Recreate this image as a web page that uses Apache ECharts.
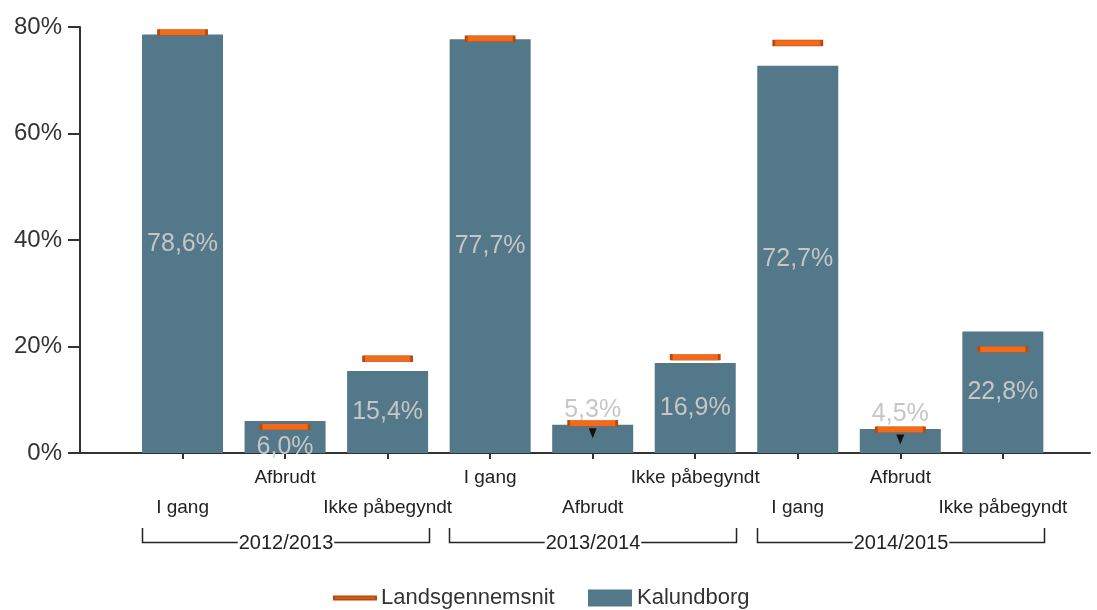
<!DOCTYPE html>
<html><head><meta charset="utf-8">
<script src="https://cdn.jsdelivr.net/npm/echarts@6/dist/echarts.min.js"></script>
<style>html,body{margin:0;padding:0;background:#fff}#c{width:1097px;height:610px}</style>
</head><body><div id="c"></div>
<script>
const categories = ['I gang','Afbrudt','Ikke påbegyndt','I gang','Afbrudt','Ikke påbegyndt','I gang','Afbrudt','Ikke påbegyndt'];
const groups = ['2012/2013','2013/2014','2014/2015'];
const kalundborg = [78.6, 6.0, 15.4, 77.7, 5.3, 16.9, 72.7, 4.5, 22.8];
const landsgennemsnit = [79.0, 4.9, 17.7, 77.8, 5.6, 18.0, 77.0, 4.4, 19.5];
const significant = [4, 7];
const yTicks = [0, 20, 40, 60, 80];

const FONT = 'Liberation Sans, Arial, sans-serif';
const fmt = v => v.toFixed(1).replace('.', ',') + '%';

const barData = kalundborg.map((v, i) => {
  const item = { value: [i, v] };
  if (v < 6) item.label = { position: 'top', distance: 2 };
  else if (v < 10) item.label = { position: 'inside', offset: [0, 10] };
  return item;
});
const markerData = landsgennemsnit.map((v, i) => [i, v]);
const sigData = significant.map(i => [i, landsgennemsnit[i]]);
const groupData = groups.map((g, k) => [k * 3, k * 3 + 2, g]);

const chart = echarts.init(document.getElementById('c'), null, { renderer: 'canvas' });
chart.setOption({
  animation: false,
  textStyle: { fontFamily: FONT },
  grid: { left: 80, right: 7, top: 27, bottom: 157 },
  legend: [
    { data: ['Landsgennemsnit'], left: 328, top: 582, icon: 'rect', itemWidth: 42, itemHeight: 3,
      itemGap: 10, textStyle: { fontSize: 22, color: '#333', fontFamily: FONT } },
    { data: ['Kalundborg'], left: 583, top: 582, icon: 'rect', itemWidth: 44, itemHeight: 17,
      textStyle: { fontSize: 22, color: '#333', fontFamily: FONT } }
  ],
  xAxis: {
    type: 'value', min: -1, max: 8.85, interval: 1,
    splitLine: { show: false },
    axisLine: { show: true, onZero: false, lineStyle: { color: '#333', width: 2 } },
    axisTick: { show: true, length: 6, lineStyle: { color: '#333', width: 2 } },
    axisLabel: {
      margin: 15, showMaxLabel: false, showMinLabel: false,
      formatter: v => {
        const i = Math.round(v);
        if (i < 0 || i >= categories.length || Math.abs(v - i) > 1e-6) return '';
        return i % 2 ? '{hi|' + categories[i] + '}' : '{lo|' + categories[i] + '}';
      },
      rich: {
        hi: { fontSize: 19, color: '#222', fontFamily: FONT },
        lo: { fontSize: 19, color: '#222', fontFamily: FONT, padding: [30, 0, 0, 0] }
      }
    }
  },
  yAxis: {
    type: 'value', min: 0, max: 80, interval: 20,
    splitLine: { show: false },
    axisLine: { show: true, onZero: false, lineStyle: { color: '#333', width: 2 } },
    axisTick: { show: true, length: 12, lineStyle: { color: '#333', width: 2 } },
    axisLabel: { margin: 18, fontSize: 24, color: '#333', fontFamily: FONT,
      formatter: v => yTicks.includes(v) ? v + '%' : '' }
  },
  series: [
    {
      name: 'Kalundborg', type: 'bar', data: barData, barWidth: 81,
      itemStyle: { color: '#52788a' },
      label: { show: true, position: 'inside', color: '#c6c6c6', fontSize: 25, fontFamily: FONT,
        formatter: p => fmt(p.value[1]) },
      z: 2
    },
    {
      name: 'Landsgennemsnit', type: 'scatter', data: markerData,
      symbol: 'rect', symbolSize: [48, 6],
      itemStyle: { color: '#f26a1b', borderColor: '#b84a0c', borderWidth: 1, opacity: 1 },
      z: 4
    },
    {
      name: 'sig', type: 'scatter', data: sigData,
      symbol: 'triangle', symbolRotate: 180, symbolSize: [8, 10], symbolOffset: [0, 10],
      itemStyle: { color: '#111', opacity: 1 }, z: 5, silent: true
    },
    {
      name: 'groups', type: 'custom', data: groupData, clip: false, silent: true, z: 6,
      encode: { x: [0, 1] },
      renderItem: (params, api) => {
        const s = api.value(0), e = api.value(1);
        const p1 = api.coord([s - 0.4, 0]);
        const p2 = api.coord([e + 0.4, 0]);
        const y0 = p1[1];
        const x1 = Math.round(p1[0]) + 0.5, x2 = Math.round(p2[0]) + 0.5;
        const yt = y0 + 75, yb = y0 + 89.5;
        return {
          type: 'group',
          children: [
            { type: 'polyline', shape: { points: [[x1, yt], [x1, yb], [x2, yb], [x2, yt]] },
              style: { stroke: '#222', lineWidth: 1.5, fill: null } },
            { type: 'text', x: (x1 + x2) / 2, y: yb + 1,
              style: { text: groups[params.dataIndex], fontSize: 20, fill: '#222', fontFamily: FONT,
                align: 'center', verticalAlign: 'middle', backgroundColor: '#fff', padding: [0, 1] } }
          ]
        };
      }
    }
  ]
});
</script></body></html>
